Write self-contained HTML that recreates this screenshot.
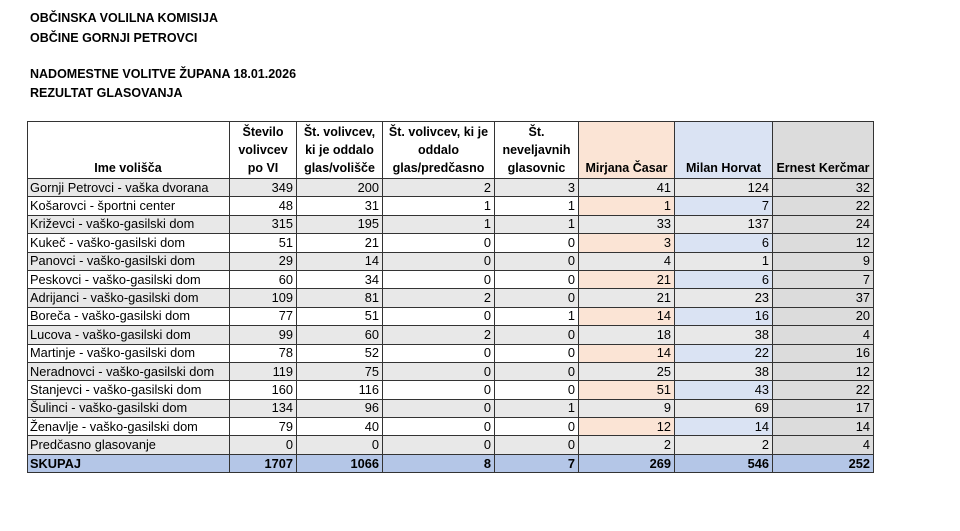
<!DOCTYPE html>
<html><head><meta charset="utf-8"><style>
body{margin:0;width:960px;height:531px;background:#fff;font-family:"Liberation Sans",sans-serif;color:#000;position:relative;overflow:hidden}
.t{position:absolute;left:30px;font-weight:bold;font-size:12.5px;line-height:14px}
table{position:absolute;left:27px;top:121px;border-collapse:collapse;table-layout:fixed;font-size:12.8px}
td{border:1px solid #333;height:17.4px;padding:0 3px;text-align:right;white-space:nowrap;overflow:hidden;line-height:16px}
td:first-child{text-align:left;padding-left:2px}
thead td{font-weight:bold;text-align:center!important;vertical-align:bottom;height:55px;line-height:18px;padding-bottom:1px;font-size:12.5px}
tr.g td{background:#e8e8e8}
.p{background:#fbe4d5}.b{background:#dae3f3}.e{background:#dcdcdc}
tr.g td.e{background:#dcdcdc}
tr.s td{background:#b4c6e7;font-weight:bold}
</style></head><body>
<div class="t" style="top:11px">OBČINSKA VOLILNA KOMISIJA</div>
<div class="t" style="top:31px">OBČINE GORNJI PETROVCI</div>
<div class="t" style="top:67px">NADOMESTNE VOLITVE ŽUPANA 18.01.2026</div>
<div class="t" style="top:86px">REZULTAT GLASOVANJA</div>
<table>
<colgroup><col style="width:202px"><col style="width:67px"><col style="width:86px"><col style="width:112px"><col style="width:84px"><col style="width:96px"><col style="width:98px"><col style="width:101px"></colgroup>
<thead><tr><td>Ime volišča</td><td>Število<br>volivcev<br>po VI</td><td>Št. volivcev,<br>ki je oddalo<br>glas/volišče</td><td>Št. volivcev, ki je<br>oddalo<br>glas/predčasno</td><td>Št.<br>neveljavnih<br>glasovnic</td><td class="p">Mirjana Časar</td><td class="b">Milan Horvat</td><td class="e">Ernest Kerčmar</td></tr></thead>
<tbody>
<tr class="g"><td>Gornji Petrovci - vaška dvorana</td><td>349</td><td>200</td><td>2</td><td>3</td><td>41</td><td>124</td><td class="e">32</td></tr>
<tr><td>Košarovci - športni center</td><td>48</td><td>31</td><td>1</td><td>1</td><td class="p">1</td><td class="b">7</td><td class="e">22</td></tr>
<tr class="g"><td>Križevci - vaško-gasilski dom</td><td>315</td><td>195</td><td>1</td><td>1</td><td>33</td><td>137</td><td class="e">24</td></tr>
<tr><td>Kukeč - vaško-gasilski dom</td><td>51</td><td>21</td><td>0</td><td>0</td><td class="p">3</td><td class="b">6</td><td class="e">12</td></tr>
<tr class="g"><td>Panovci - vaško-gasilski dom</td><td>29</td><td>14</td><td>0</td><td>0</td><td>4</td><td>1</td><td class="e">9</td></tr>
<tr><td>Peskovci - vaško-gasilski dom</td><td>60</td><td>34</td><td>0</td><td>0</td><td class="p">21</td><td class="b">6</td><td class="e">7</td></tr>
<tr class="g"><td>Adrijanci - vaško-gasilski dom</td><td>109</td><td>81</td><td>2</td><td>0</td><td>21</td><td>23</td><td class="e">37</td></tr>
<tr><td>Boreča - vaško-gasilski dom</td><td>77</td><td>51</td><td>0</td><td>1</td><td class="p">14</td><td class="b">16</td><td class="e">20</td></tr>
<tr class="g"><td>Lucova - vaško-gasilski dom</td><td>99</td><td>60</td><td>2</td><td>0</td><td>18</td><td>38</td><td class="e">4</td></tr>
<tr><td>Martinje - vaško-gasilski dom</td><td>78</td><td>52</td><td>0</td><td>0</td><td class="p">14</td><td class="b">22</td><td class="e">16</td></tr>
<tr class="g"><td>Neradnovci - vaško-gasilski dom</td><td>119</td><td>75</td><td>0</td><td>0</td><td>25</td><td>38</td><td class="e">12</td></tr>
<tr><td>Stanjevci - vaško-gasilski dom</td><td>160</td><td>116</td><td>0</td><td>0</td><td class="p">51</td><td class="b">43</td><td class="e">22</td></tr>
<tr class="g"><td>Šulinci - vaško-gasilski dom</td><td>134</td><td>96</td><td>0</td><td>1</td><td>9</td><td>69</td><td class="e">17</td></tr>
<tr><td>Ženavlje - vaško-gasilski dom</td><td>79</td><td>40</td><td>0</td><td>0</td><td class="p">12</td><td class="b">14</td><td class="e">14</td></tr>
<tr class="g"><td>Predčasno glasovanje</td><td>0</td><td>0</td><td>0</td><td>0</td><td>2</td><td>2</td><td class="e">4</td></tr>
<tr class="s"><td>SKUPAJ</td><td>1707</td><td>1066</td><td>8</td><td>7</td><td>269</td><td>546</td><td>252</td></tr>
</tbody></table>
</body></html>
